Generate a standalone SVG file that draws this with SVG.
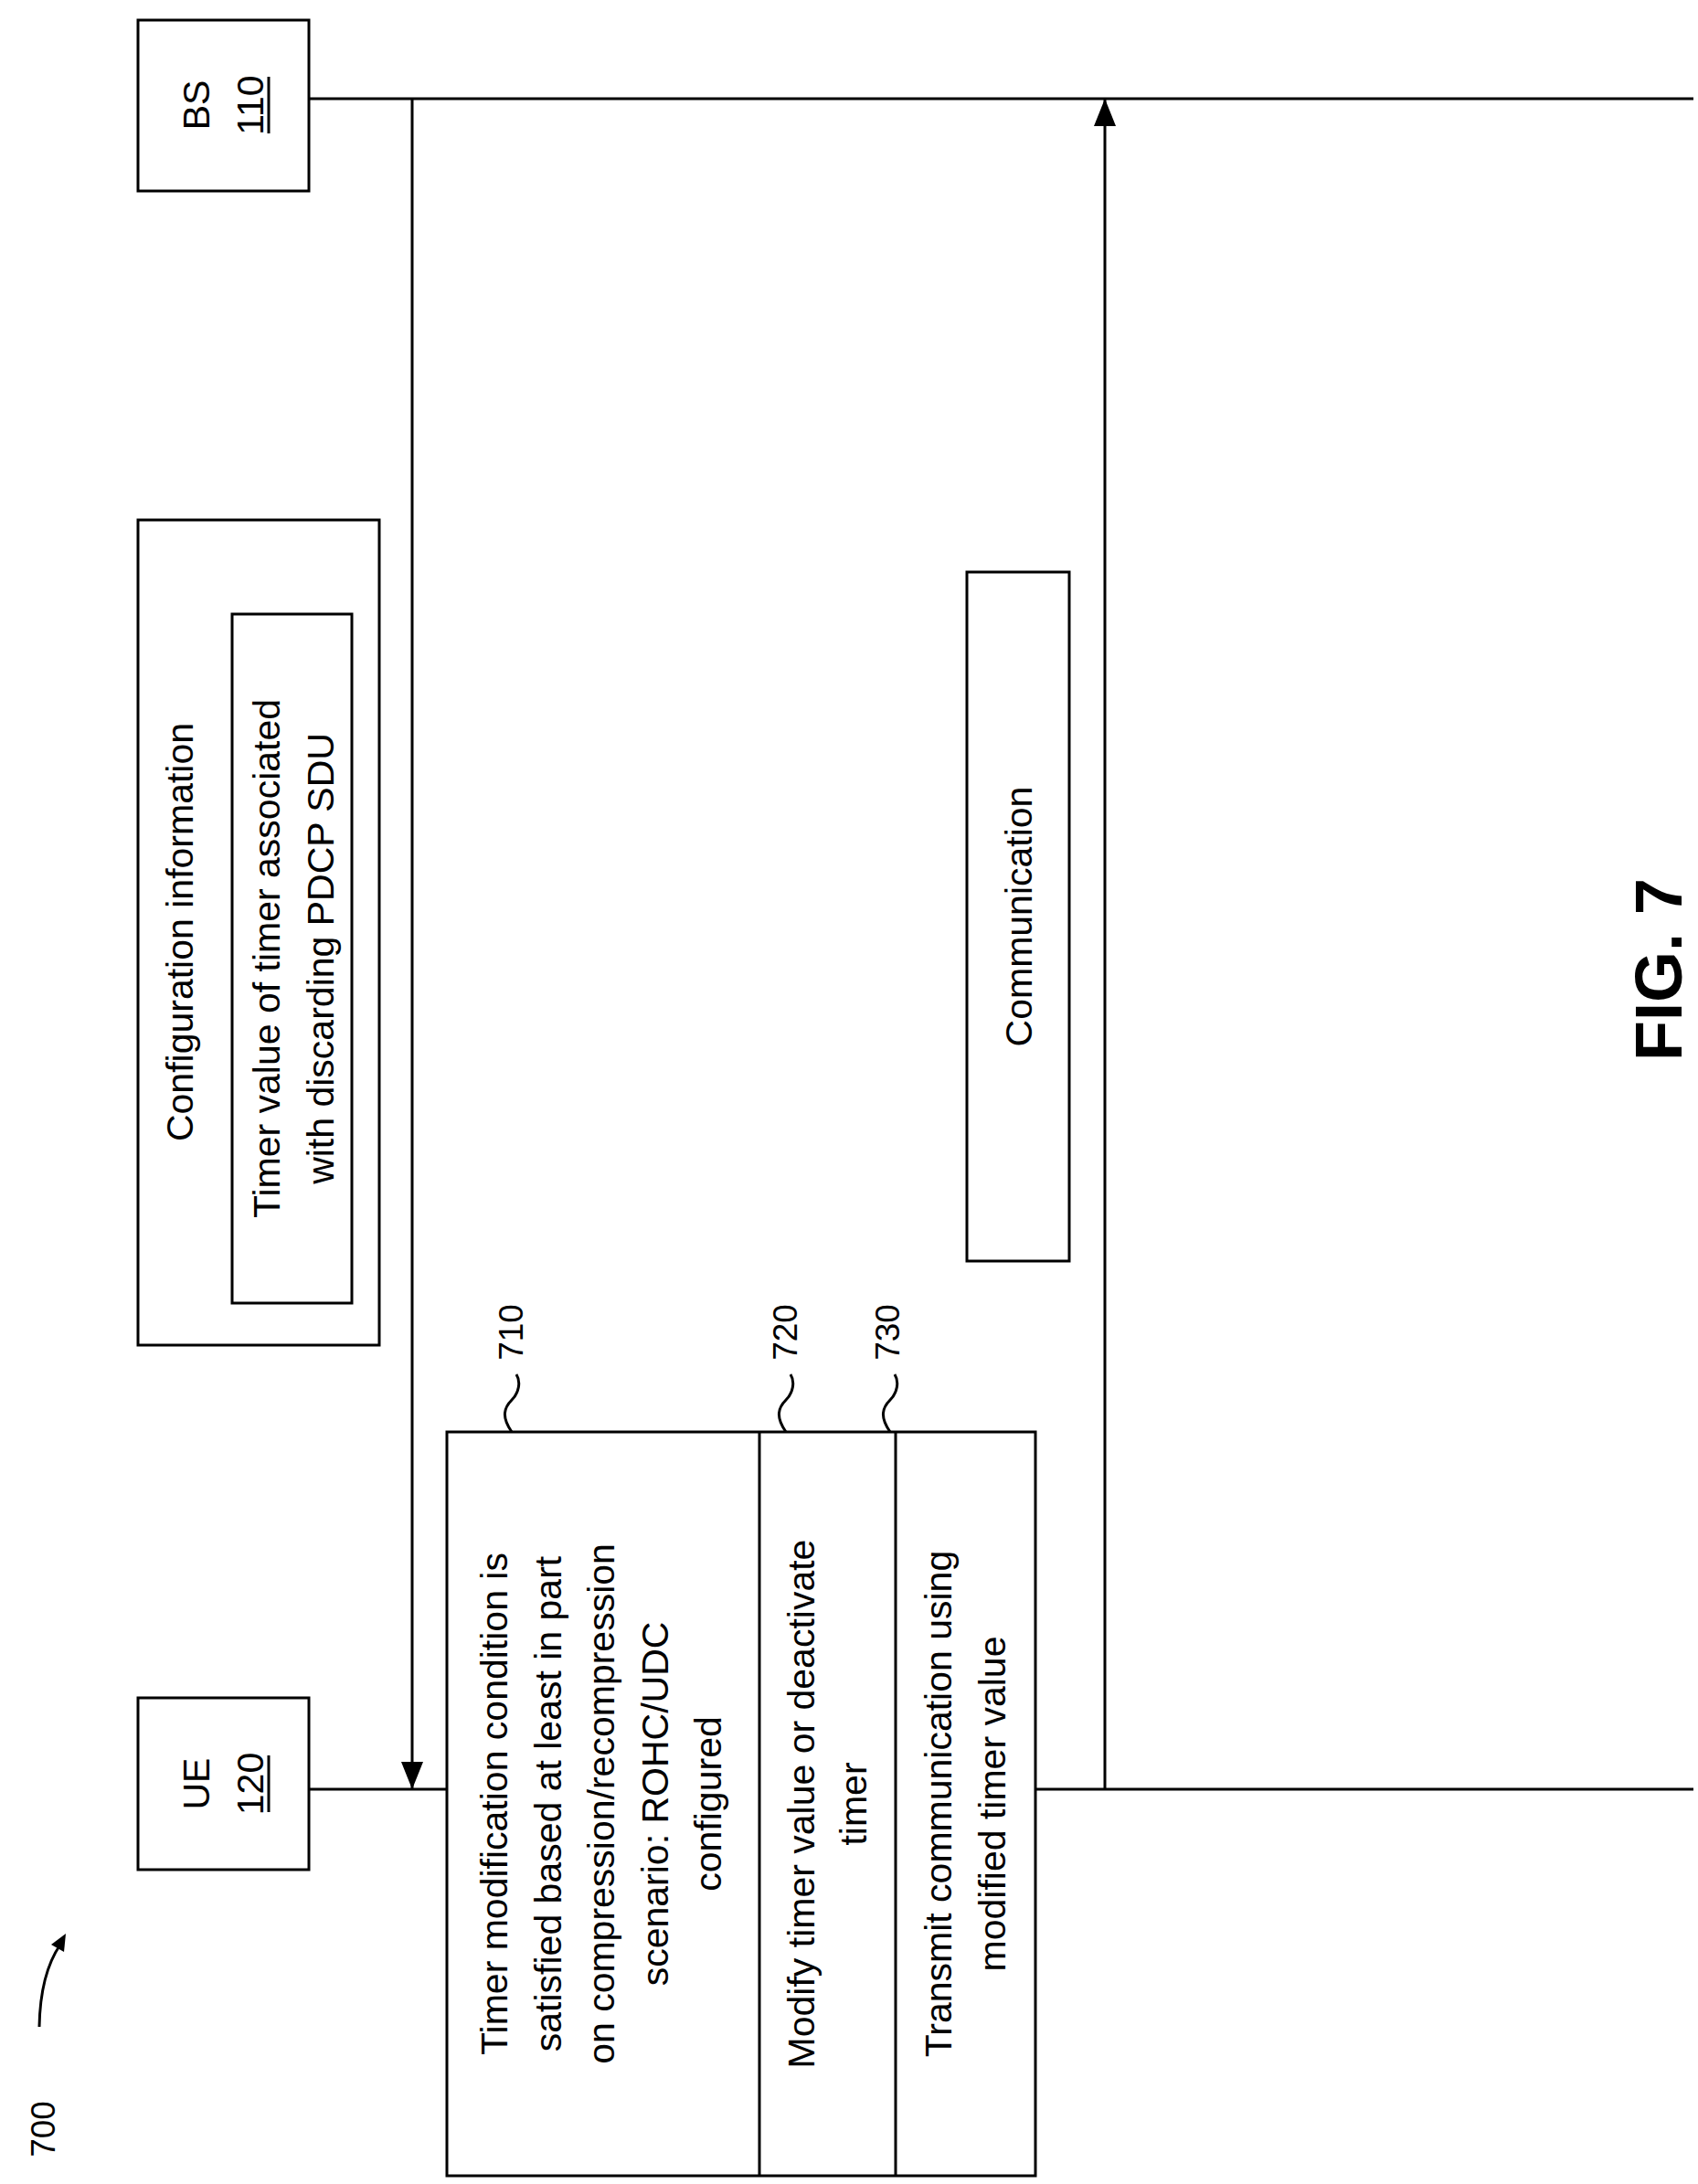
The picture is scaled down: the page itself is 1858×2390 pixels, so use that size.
<svg xmlns="http://www.w3.org/2000/svg" width="1858" height="2390" viewBox="0 0 1858 2390">
<style>
.b{fill:#fff;stroke:#000;stroke-width:3}
.l{stroke:#000;stroke-width:3;fill:none}
text{font-family:"Liberation Sans",Arial,sans-serif;font-size:41px;text-anchor:middle;fill:#000}
.n{font-size:37px}
</style>
<defs><marker id="ah" markerWidth="12" markerHeight="12" refX="10" refY="6" orient="auto" markerUnits="userSpaceOnUse"><path d="M0 0 L0 0 L12 6 L0 12 Z" transform="scale(2.5) translate(-6.8 -3.6)"/></marker>
<marker id="a" viewBox="0 0 30 24" markerWidth="30" markerHeight="24" refX="30" refY="12" orient="auto" markerUnits="userSpaceOnUse"><path d="M0 0 L30 12 L0 24 Z"/></marker></defs>
<rect width="1858" height="2390" fill="#fff"/>
<g id="connectors">
<line class="l" x1="338" y1="108" x2="1853" y2="108"/>
<line class="l" x1="338" y1="1958" x2="1853" y2="1958"/>
<line class="l" x1="451" y1="108" x2="451" y2="1958" marker-end="url(#a)"/>
<line class="l" x1="1209" y1="1958" x2="1209" y2="108" marker-end="url(#a)"/>
</g>
<g id="bs"><rect class="b" x="151" y="22" width="187" height="187"/>
<text transform="translate(229 115) rotate(-90)">BS</text>
<text transform="translate(288 115) rotate(-90)">110</text>
<line class="l" x1="294" y1="84" x2="294" y2="146"/></g>
<g id="ue"><rect class="b" x="151" y="1858" width="187" height="188"/>
<text transform="translate(229 1952) rotate(-90)">UE</text>
<text transform="translate(288 1952) rotate(-90)">120</text>
<line class="l" x1="294" y1="1921" x2="294" y2="1983"/></g>
<g id="config"><rect class="b" x="151" y="569" width="264" height="903"/>
<text transform="translate(211 1020) rotate(-90)">Configuration information</text>
<rect class="b" x="254" y="672" width="131" height="754"/>
<text transform="translate(306 1049) rotate(-90)">Timer value of timer associated</text>
<text transform="translate(365 1049) rotate(-90)">with discarding PDCP SDU</text></g>
<g id="comm"><rect class="b" x="1058" y="626" width="112" height="754"/>
<text transform="translate(1129 1003) rotate(-90)">Communication</text></g>
<g id="process"><rect class="b" x="489" y="1567" width="644" height="814"/>
<line class="l" x1="831" y1="1567" x2="831" y2="2381"/>
<line class="l" x1="980" y1="1567" x2="980" y2="2381"/>
<text transform="translate(555 1974) rotate(-90)">Timer modification condition is</text>
<text transform="translate(614 1974) rotate(-90)">satisfied based at least in part</text>
<text transform="translate(672 1974) rotate(-90)">on compression/recompression</text>
<text transform="translate(731 1974) rotate(-90)">scenario: ROHC/UDC</text>
<text transform="translate(789 1974) rotate(-90)">configured</text>
<text transform="translate(891 1974) rotate(-90)">Modify timer value or deactivate</text>
<text transform="translate(948 1974) rotate(-90)">timer</text>
<text transform="translate(1041 1974) rotate(-90)">Transmit communication using</text>
<text transform="translate(1100 1974) rotate(-90)">modified timer value</text></g>
<g id="labels">
<path class="l" d="M560 1567 C548 1550 552 1540 560 1532 C568 1524 570 1512 565 1504"/>
<path class="l" d="M860 1567 C848 1550 852 1540 860 1532 C868 1524 870 1512 865 1504"/>
<path class="l" d="M974 1567 C962 1550 966 1540 974 1532 C982 1524 984 1512 979 1504"/>
<text class="n" transform="translate(572 1458) rotate(-90)">710</text>
<text class="n" transform="translate(872 1458) rotate(-90)">720</text>
<text class="n" transform="translate(984 1458) rotate(-90)">730</text>
<text style="font-size:72px;font-weight:bold" transform="translate(1840 1061) rotate(-90)">FIG. 7</text>
<text class="n" transform="translate(60 2330) rotate(-90)">700</text>
<path class="l" d="M43 2218 Q44 2160 66 2128"/>
<path d="M72 2116 L56 2128 L70 2136 Z"/>
</g>
</svg>
